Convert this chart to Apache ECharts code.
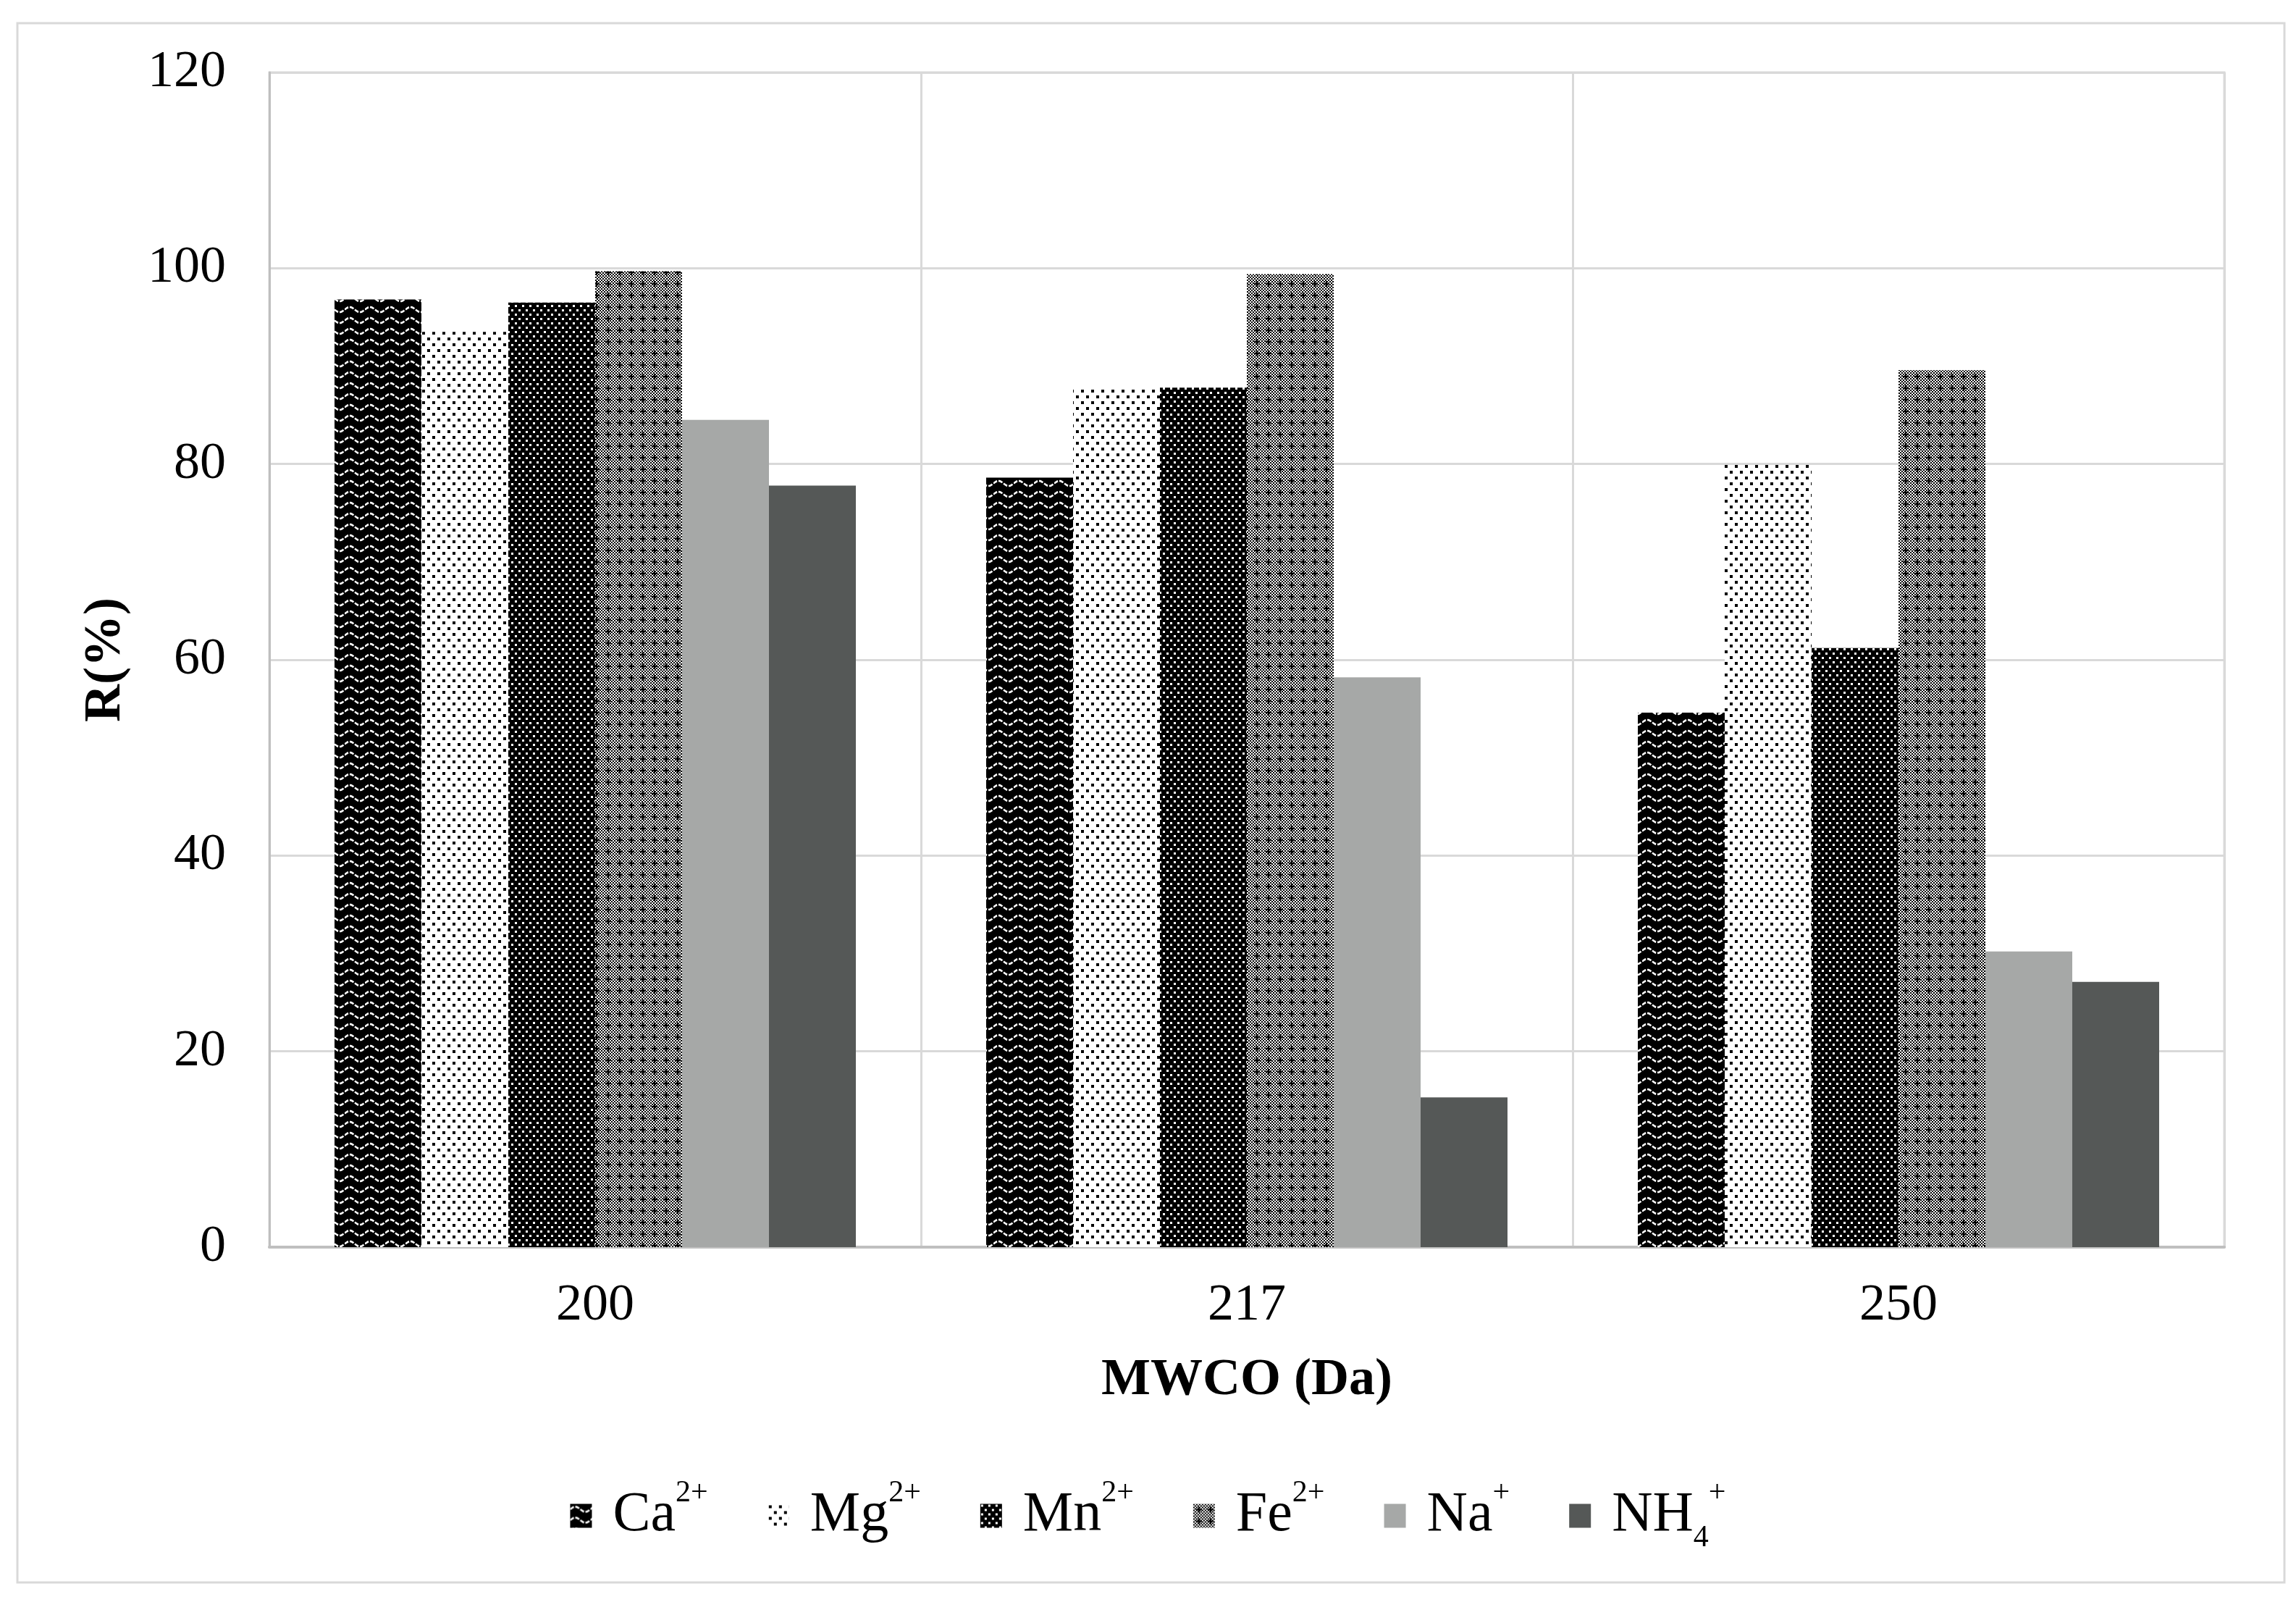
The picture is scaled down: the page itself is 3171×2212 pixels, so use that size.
<!DOCTYPE html>
<html>
<head>
<meta charset="utf-8">
<script src="https://cdn.jsdelivr.net/npm/echarts@6/dist/echarts.min.js"></script>
<style>
html,body{margin:0;padding:0;background:#fff;}
#chart{width:3171px;height:2212px;}
</style>
</head>
<body>
<div id="chart"></div>
<script>
// ---- data ----
var categories = ['200', '217', '250'];
var seriesNames = ['Ca2+', 'Mg2+', 'Mn2+', 'Fe2+', 'Na+', 'NH4+'];
var legendBase = ['Ca', 'Mg', 'Mn', 'Fe', 'Na', 'NH'];
var legendSub = ['', '', '', '', '', '4'];
var legendSup = ['2+', '2+', '2+', '2+', '+', '+'];
var caValues = [96.8, 78.6, 54.6];
var mgValues = [93.5, 87.8, 79.9];
var mnValues = [96.5, 87.8, 61.2];
var feValues = [99.7, 99.4, 89.6];
var naValues = [84.5, 58.2, 30.2];
var nh4Values = [77.8, 15.3, 27.1];
var yTicks = { min: 0, max: 120, interval: 20 };

// ---- patterns ----
function makeCanvas(w, h) {
  var c = document.createElement('canvas');
  c.width = w; c.height = h;
  return c;
}
function caPattern() {
  var c = makeCanvas(28, 15), g = c.getContext('2d');
  g.fillStyle = '#000'; g.fillRect(0, 0, 28, 15);
  g.strokeStyle = '#fff'; g.lineWidth = 2.6;
  g.setLineDash([6, 2]);
  g.beginPath();
  for (var x = 0; x <= 28; x++) {
    var y = 7.5 - 3.5 * Math.sin(x / 28 * Math.PI * 2);
    if (x === 0) g.moveTo(x, y); else g.lineTo(x, y);
  }
  g.stroke();
  return c;
}
function mgPattern() {
  var c = makeCanvas(14, 16), g = c.getContext('2d');
  g.fillStyle = '#fff'; g.fillRect(0, 0, 14, 16);
  g.fillStyle = '#000';
  g.fillRect(2, 2, 4, 4);
  g.fillRect(9, 10, 4, 4);
  return c;
}
function mnPattern() {
  var c = makeCanvas(10, 12), g = c.getContext('2d');
  g.fillStyle = '#000'; g.fillRect(0, 0, 10, 12);
  g.fillStyle = '#fff';
  g.fillRect(1, 1, 3, 3);
  g.fillRect(6, 7, 3, 3);
  return c;
}
function fePattern() {
  var c = makeCanvas(16, 16), g = c.getContext('2d');
  g.fillStyle = '#fff'; g.fillRect(0, 0, 16, 16);
  g.fillStyle = '#000';
  for (var i = 0; i < 8; i++) {
    for (var j = 0; j < 8; j++) {
      if ((i + j) % 2 === 0) g.fillRect(i * 2, j * 2, 2, 2);
    }
  }
  g.fillRect(7, 4, 2, 8);
  g.fillRect(4, 7, 8, 2);
  return c;
}
var fills = [
  { image: caPattern(), repeat: 'repeat' },
  { image: mgPattern(), repeat: 'repeat' },
  { image: mnPattern(), repeat: 'repeat' },
  { image: fePattern(), repeat: 'repeat' },
  '#a6a8a7',
  '#555857'
];
var allValues = [caValues, mgValues, mnValues, feValues, naValues, nh4Values];

var FONT = "'Liberation Serif', 'Times New Roman', serif";

var series = seriesNames.map(function (n, i) {
  return {
    name: n,
    type: 'bar',
    data: allValues[i],
    barGap: '0%',
    barCategoryGap: '20%',
    itemStyle: { color: fills[i] },
    emphasis: { disabled: true }
  };
});

var chart = echarts.init(document.getElementById('chart'), null, { renderer: 'canvas' });
chart.setOption({
  animation: false,
  backgroundColor: '#fff',
  textStyle: { fontFamily: FONT },
  graphic: [{
    type: 'rect',
    shape: { x: 24, y: 32, width: 3131, height: 2153 },
    style: { fill: 'none', stroke: '#d9d9d9', lineWidth: 3 },
    silent: true
  }],
  grid: {
    left: 372, right: 99, top: 100, bottom: 490,
    show: true, borderColor: '#d9d9d9', borderWidth: 3
  },
  legend: {
    data: seriesNames,
    left: 'center',
    top: 2036,
    itemWidth: 30,
    itemHeight: 33,
    itemGap: 82,
    icon: 'rect',
    formatter: function (name) {
      var i = seriesNames.indexOf(name);
      var s = '{b|' + legendBase[i] + '}';
      if (legendSub[i]) s += '{sub|' + legendSub[i] + '}';
      s += '{sup|' + legendSup[i] + '}';
      return s;
    },
    textStyle: {
      fontFamily: FONT,
      color: '#000',
      rich: {
        b: { fontSize: 78, fontFamily: FONT, color: '#000', lineHeight: 104, padding: [0, 0, 0, 24] },
        sup: { fontSize: 42, fontFamily: FONT, color: '#000', lineHeight: 46, verticalAlign: 'top' },
        sub: { fontSize: 42, fontFamily: FONT, color: '#000', lineHeight: 46, verticalAlign: 'bottom' }
      }
    }
  },
  xAxis: {
    type: 'category',
    data: categories,
    name: 'MWCO (Da)',
    nameLocation: 'middle',
    nameGap: 148,
    nameTextStyle: { fontFamily: FONT, fontSize: 72, fontWeight: 'bold', color: '#000' },
    axisLine: { show: true, lineStyle: { color: '#bfbfbf', width: 4 } },
    axisTick: { show: false },
    axisLabel: { fontFamily: FONT, fontSize: 72, color: '#000', margin: 45 },
    splitLine: { show: true, lineStyle: { color: '#d9d9d9', width: 3 } }
  },
  yAxis: {
    type: 'value',
    min: yTicks.min,
    max: yTicks.max,
    interval: yTicks.interval,
    name: 'R(%)',
    nameLocation: 'middle',
    nameGap: 190,
    nameRotate: 90,
    nameTextStyle: { fontFamily: FONT, fontSize: 72, fontWeight: 'bold', color: '#000' },
    axisLine: { show: true, lineStyle: { color: '#bfbfbf', width: 3 } },
    axisTick: { show: false },
    axisLabel: { fontFamily: FONT, fontSize: 72, color: '#000', margin: 60 },
    splitLine: { show: true, lineStyle: { color: '#d9d9d9', width: 3 } }
  },
  series: series
});
</script>
</body>
</html>
